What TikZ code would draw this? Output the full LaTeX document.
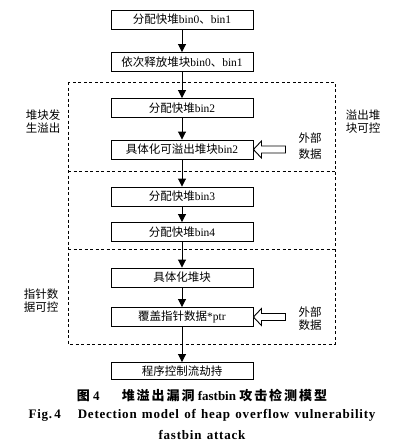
\documentclass[tikz,border=0pt]{standalone}
\usepackage{fontspec}
\setmainfont{Liberation Serif}
\newfontfamily\cjkf{Noto Sans CJK SC}
\newfontfamily\cjkcap{Noto Sans CJK SC}[LetterSpace=15]
\newfontfamily\latcap{Liberation Serif}[LetterSpace=6,WordSpace=1.3]
\usetikzlibrary{arrows.meta,calc}
\newcommand{\zh}[1]{{\cjkf #1}}
\newcommand{\zc}[1]{{\cjkcap #1}}
\begin{document}
\begin{tikzpicture}[x=1pt,y=-1pt,
  stepbox/.style={draw,line width=0.9pt,minimum width=142pt,minimum height=19pt,inner sep=0pt,font=\fontsize{11.5}{12}\selectfont},
  flow/.style={line width=0.9pt,-{Triangle[length=8pt,width=8pt]}},
  region/.style={dashed,line width=0.8pt,dash pattern=on 3pt off 2.5pt},
  sidelabel/.style={align=center,inner sep=0pt,font=\fontsize{11.5}{13.5}\selectfont\cjkf},
  hollow/.style={draw,line width=0.9pt,fill=white}]
\useasboundingbox (0,0) rectangle (401,447);
% regions
\draw[region] (68,82) rectangle (335,344);
\draw[region] (68,171) -- (335,171);
\draw[region] (68,249) -- (335,249);
% boxes
\node[stepbox] (b1) at (182,19.5) {\zh{分配快堆}bin0\zh{、}bin1};
\node[stepbox] (b2) at (182,62) {\zh{依次释放堆块}bin0\zh{、}bin1};
\node[stepbox] (b3) at (182,108) {\zh{分配快堆}bin2};
\node[stepbox] (b4) at (182,149.5) {\zh{具体化可溢出堆块}bin2};
\node[stepbox] (b5) at (182,196.5) {\zh{分配快堆}bin3};
\node[stepbox] (b6) at (182,232) {\zh{分配快堆}bin4};
\node[stepbox] (b7) at (182,277.5) {\zh{具体化堆块}};
\node[stepbox] (b8) at (182,317) {\zh{覆盖指针数据}*ptr};
\node[stepbox,minimum height=17pt] (b9) at (182,371) {\zh{程序控制流劫持}};
% arrows
\draw[flow] (b1) -- (b2);
\draw[flow] (b2) -- (b3);
\draw[flow] (b3) -- (b4);
\draw[flow] (b4) -- (b5);
\draw[flow] (b5) -- (b6);
\draw[flow] (b6) -- (b7);
\draw[flow] (b7) -- (b8);
\draw[flow] (b8) -- (b9);
% hollow arrows
\draw[hollow] (b4.east) -- ++(8,-8.5) -- ++(0,5) -- ++(24,0) -- ++(0,7) -- ++(-24,0) -- ++(0,5) -- cycle;
\draw[hollow] (b8.east) -- ++(8,-8.5) -- ++(0,5) -- ++(24,0) -- ++(0,7) -- ++(-24,0) -- ++(0,5) -- cycle;
% labels
\node[sidelabel] (l1) at (43,121.5) {堆块发\\生溢出};
\node[sidelabel] (l2) at (363,121.5) {溢出堆\\块可控};
\node[sidelabel,font=\fontsize{11.5}{16}\selectfont\cjkf] (l3) at (310,146) {外部\\数据};
\node[sidelabel] (l4) at (41,300.5) {指针数\\据可控};
\node[sidelabel,font=\fontsize{11.5}{13.5}\selectfont\cjkf] (l5) at (310,318.5) {外部\\数据};
% caption
\node[inner sep=0pt,font=\fontsize{13}{13}\selectfont\bfseries] (c1) at (202,395) {\zc{图}~4\hspace{1.7em}\zc{堆溢出漏洞} fastbin \zc{攻击检测模型}};
\node[inner sep=0pt,font=\fontsize{13}{14}\selectfont\bfseries\latcap] (c2) at (202,415) {Fig.\,4\hspace{1.3em}Detection model of heap overflow vulnerability};
\node[inner sep=0pt,font=\fontsize{13}{14}\selectfont\bfseries\latcap] (c3) at (202,435) {fastbin attack};
\end{tikzpicture}
\end{document}
